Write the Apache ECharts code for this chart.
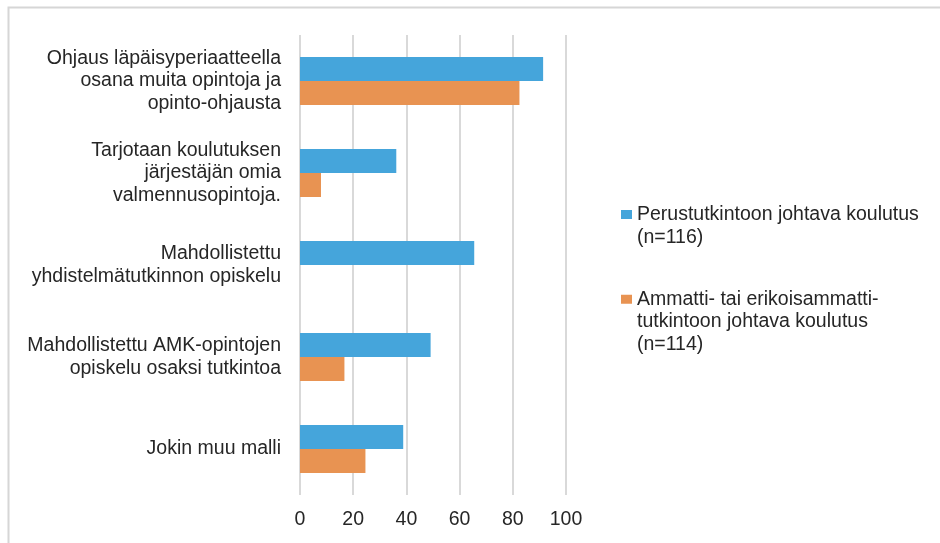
<!DOCTYPE html>
<html>
<head>
<meta charset="utf-8">
<script src="https://cdn.jsdelivr.net/npm/echarts@6/dist/echarts.min.js"></script>
<style>html,body{margin:0;padding:0;background:#fff}#c{width:940px;height:543px}</style>
</head>
<body>
<div id="c"></div>
<script>
const categories = [
  'Ohjaus läpäisyperiaatteella\nosana muita opintoja ja\nopinto-ohjausta',
  'Tarjotaan koulutuksen\njärjestäjän omia\nvalmennusopintoja.',
  'Mahdollistettu\nyhdistelmätutkinnon opiskelu',
  'Mahdollistettu AMK-opintojen\nopiskelu osaksi tutkintoa',
  'Jokin muu malli'
];
const seriesNames = [
  'Perustutkintoon johtava koulutus (n=116)',
  'Ammatti- tai erikoisammattitutkintoon johtava koulutus (n=114)'
];
const legendTexts = [
  '\nPerustutkintoon johtava koulutus\n(n=116)',
  '\n\nAmmatti- tai erikoisammatti-\ntutkintoon johtava koulutus\n(n=114)'
];
const perustutkinto = [91.4, 36.2, 65.5, 49.1, 38.8];
const ammattitutkinto = [82.5, 7.9, 0, 16.7, 24.6];
const xTicks = [0, 20, 40, 60, 80, 100];

const FONT = '"Liberation Sans", Arial, sans-serif';
const TXT = '#262626';
const chart = echarts.init(document.getElementById('c'));
chart.setOption({
  animation: false,
  textStyle: { fontFamily: FONT },
  graphic: [{
    type: 'rect', left: 6, top: 5, silent: true,
    shape: { width: 1000, height: 1000 },
    style: { fill: 'none', stroke: '#d6d6d6', lineWidth: 2 }
  }],
  grid: { left: 300, right: 374, top: 35, bottom: 48, containLabel: false },
  xAxis: {
    type: 'value', min: xTicks[0], max: xTicks[xTicks.length - 1], interval: 20,
    axisLine: { show: false }, axisTick: { show: false },
    splitLine: { show: true, lineStyle: { color: '#d9d9d9', width: 2 } },
    axisLabel: { color: TXT, fontSize: 19.5, fontFamily: FONT, margin: 15 }
  },
  yAxis: {
    type: 'category', data: categories, inverse: true,
    axisLine: { show: false }, axisTick: { show: false },
    splitLine: { show: false },
    axisLabel: { color: TXT, fontSize: 19.5, lineHeight: 22.5, fontFamily: FONT, margin: 19 }
  },
  legend: [
    {
      data: [seriesNames[0]], orient: 'vertical', left: 621, top: 180, padding: 0,
      itemWidth: 11, itemHeight: 9, icon: 'rect',
      formatter: () => legendTexts[0],
      textStyle: { color: TXT, fontSize: 19.5, lineHeight: 23, fontFamily: FONT }
    },
    {
      data: [seriesNames[1]], orient: 'vertical', left: 621, top: 243, padding: 0,
      itemWidth: 11, itemHeight: 9, icon: 'rect',
      formatter: () => legendTexts[1],
      textStyle: { color: TXT, fontSize: 19.5, lineHeight: 22.5, fontFamily: FONT }
    }
  ],
  series: [
    { name: seriesNames[0], type: 'bar', data: perustutkinto, barWidth: 24, barGap: '0%',
      itemStyle: { color: '#45a5db' } },
    { name: seriesNames[1], type: 'bar', data: ammattitutkinto, barWidth: 24, barGap: '0%',
      itemStyle: { color: '#e89352' } }
  ]
});
</script>
</body>
</html>
